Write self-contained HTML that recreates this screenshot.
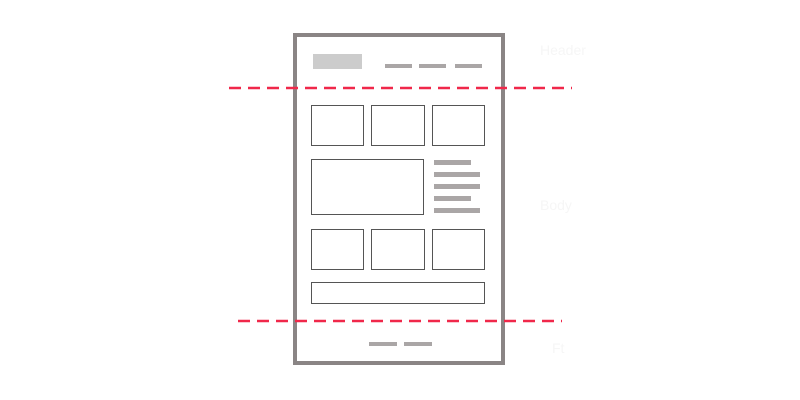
<!DOCTYPE html>
<html><head><meta charset="utf-8"><style>body{margin:0;background:#fff}svg{display:block}</style></head>
<body>
<svg width="800" height="400" viewBox="0 0 800 400" font-family="Liberation Sans, sans-serif">
<rect x="295" y="35" width="208" height="328" fill="none" stroke="#8a8585" stroke-width="4"/>
<rect x="313" y="54" width="49" height="15" fill="#cccccc"/>
<g fill="#aaa6a6">
<rect x="385" y="64" width="27" height="4"/><rect x="419" y="64" width="27" height="4"/><rect x="455" y="64" width="27" height="4"/>
</g>
<g fill="none" stroke="#555" stroke-width="1">
<rect x="311.5" y="105.5" width="52" height="40"/>
<rect x="371.5" y="105.5" width="53" height="40"/>
<rect x="432.5" y="105.5" width="52" height="40"/>
<rect x="311.5" y="159.5" width="112" height="55"/>
<rect x="311.5" y="229.5" width="52" height="40"/>
<rect x="371.5" y="229.5" width="53" height="40"/>
<rect x="432.5" y="229.5" width="52" height="40"/>
<rect x="311.5" y="282.5" width="173" height="21"/>
</g>
<g fill="#aaa6a6">
<rect x="434" y="160" width="37" height="5"/><rect x="434" y="172" width="46" height="5"/><rect x="434" y="184" width="46" height="5"/><rect x="434" y="196" width="37" height="5"/><rect x="434" y="208" width="46" height="5"/>
</g>
<g fill="#aaa6a6">
<rect x="369" y="342" width="28" height="4"/><rect x="404" y="342" width="28" height="4"/>
</g>
<line x1="229" y1="88" x2="572" y2="88" stroke="#f0284a" stroke-width="2.5" stroke-dasharray="12,7"/>
<line x1="238" y1="321" x2="562" y2="321" stroke="#f0284a" stroke-width="2.5" stroke-dasharray="12,7"/>
<g fill="#f6f6f6" font-size="14">
<text x="540" y="55">Header</text>
<text x="540" y="210">Body</text>
<text x="552" y="353">Ft</text>
</g>
</svg>
</body></html>
